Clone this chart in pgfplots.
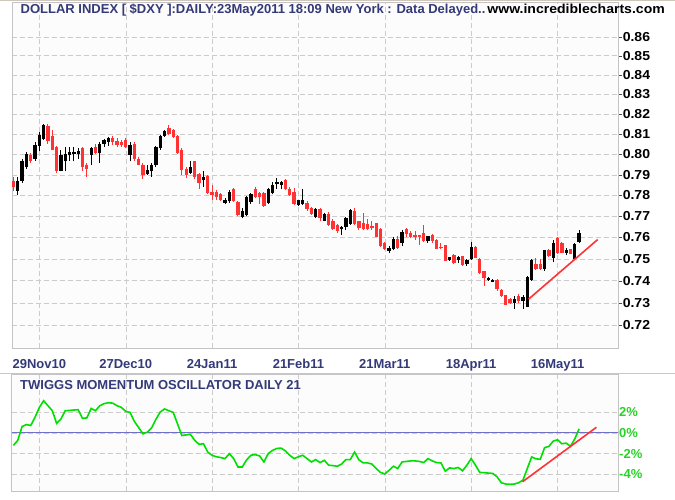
\documentclass[border=0pt]{standalone}
\usepackage{pgfplots}
\usepackage{pgfplotstable}
\usepackage{fontspec}
\setmainfont{Liberation Sans}
\pgfplotsset{compat=1.18}

\definecolor{navy}{RGB}{52,58,120}
\definecolor{candlered}{RGB}{255,51,51}
\definecolor{oscgreen}{RGB}{0,224,0}
\definecolor{labelgreen}{RGB}{40,210,40}
\definecolor{gridgray}{RGB}{204,204,204}
\definecolor{framegray}{RGB}{196,196,196}
\definecolor{zeroblue}{RGB}{112,112,196}
\definecolor{sepline}{RGB}{206,198,186}
\definecolor{panelbg}{RGB}{252,252,252}

% daily candles, x = trading day counted from 29Nov10
\pgfplotstableread{
i o h l c
-5 0.782 0.789 0.780 0.787
-4 0.787 0.798 0.786 0.797
-3 0.794 0.801 0.793 0.800
-1 0.798 0.806 0.797 0.8045
0 0.804 0.811 0.8015 0.8095
1 0.8075 0.815 0.807 0.8145
5 0.792 0.802 0.7915 0.7995
6 0.797 0.8035 0.792 0.800
7 0.7995 0.8035 0.797 0.801
8 0.800 0.8035 0.7965 0.801
9 0.800 0.803 0.798 0.8015
12 0.7995 0.8035 0.7945 0.803
14 0.8005 0.806 0.796 0.805
15 0.805 0.8075 0.8035 0.807
16 0.806 0.8085 0.804 0.808
21 0.7995 0.806 0.7965 0.8045
25 0.7905 0.795 0.790 0.7925
26 0.7915 0.7955 0.789 0.795
27 0.795 0.804 0.7935 0.8035
28 0.803 0.8095 0.802 0.809
29 0.809 0.812 0.8085 0.8115
35 0.791 0.7965 0.7905 0.794
38 0.7875 0.7915 0.784 0.789
43 0.7765 0.7785 0.776 0.778
44 0.7775 0.7825 0.7765 0.7815
47 0.7695 0.774 0.769 0.7725
48 0.7705 0.7795 0.770 0.779
49 0.777 0.781 0.776 0.7805
53 0.7765 0.7835 0.776 0.783
54 0.781 0.7865 0.7805 0.785
55 0.7855 0.7885 0.783 0.7865
56 0.785 0.787 0.783 0.7865
60 0.7755 0.778 0.775 0.778
61 0.776 0.783 0.7755 0.778
64 0.7695 0.774 0.769 0.7735
66 0.768 0.7715 0.7675 0.771
70 0.764 0.7655 0.761 0.765
71 0.765 0.7695 0.7635 0.769
72 0.7665 0.7735 0.766 0.773
81 0.7538 0.7560 0.7530 0.7552
82 0.7545 0.7600 0.7540 0.7595
84 0.7572 0.7635 0.7560 0.7627
90 0.7584 0.7606 0.7575 0.7606
95 0.7494 0.7510 0.7490 0.7509
97 0.7494 0.7512 0.7480 0.7509
99 0.7475 0.7500 0.7468 0.7497
100 0.7500 0.7580 0.7495 0.7557
104 0.7403 0.7416 0.7400 0.7414
105 0.7395 0.7407 0.7393 0.7405
110 0.7299 0.7331 0.7273 0.7317
112 0.7310 0.7335 0.7273 0.7325
113 0.7282 0.7420 0.7282 0.7417
114 0.7403 0.7500 0.7400 0.7497
117 0.7456 0.7543 0.7445 0.7543
119 0.7505 0.7591 0.7484 0.7573
122 0.7528 0.7550 0.7520 0.7543
124 0.7500 0.7575 0.7495 0.7570
125 0.7580 0.7634 0.7575 0.7621
}\upcandles

\pgfplotstableread{
i o h l c
-6 0.787 0.789 0.782 0.784
-2 0.7995 0.8005 0.796 0.797
2 0.814 0.815 0.805 0.8065
3 0.809 0.812 0.803 0.802
4 0.8035 0.804 0.791 0.792
10 0.803 0.8035 0.792 0.7935
11 0.795 0.7955 0.789 0.793
13 0.8035 0.805 0.800 0.8005
17 0.808 0.809 0.8045 0.806
18 0.8065 0.808 0.8035 0.8045
19 0.806 0.807 0.8035 0.8045
20 0.807 0.808 0.803 0.8035
22 0.805 0.806 0.797 0.798
23 0.798 0.7985 0.7945 0.795
24 0.795 0.7955 0.788 0.790
30 0.813 0.8145 0.8095 0.810
31 0.812 0.8125 0.808 0.8085
32 0.809 0.8095 0.800 0.8005
33 0.802 0.803 0.790 0.7925
34 0.793 0.794 0.7885 0.790
36 0.7965 0.797 0.788 0.789
37 0.7905 0.791 0.783 0.786
39 0.7895 0.790 0.7805 0.781
40 0.7815 0.785 0.778 0.780
41 0.7815 0.7825 0.778 0.779
42 0.7805 0.781 0.7775 0.778
45 0.783 0.7835 0.777 0.7775
46 0.777 0.7775 0.770 0.7705
50 0.783 0.784 0.7785 0.779
51 0.781 0.7815 0.776 0.779
52 0.781 0.7815 0.7745 0.775
57 0.7875 0.788 0.7825 0.783
58 0.783 0.784 0.7795 0.780
59 0.7815 0.7835 0.7755 0.776
62 0.7765 0.7775 0.7725 0.7735
63 0.774 0.7745 0.7705 0.771
65 0.7735 0.774 0.7675 0.769
67 0.771 0.772 0.7655 0.766
68 0.768 0.7685 0.7635 0.764
69 0.766 0.7665 0.762 0.763
73 0.7725 0.774 0.766 0.7665
74 0.7675 0.768 0.7635 0.7645
75 0.767 0.7715 0.7635 0.764
76 0.7665 0.7685 0.7635 0.764
77 0.7655 0.768 0.7635 0.7645
78 0.7668 0.767 0.760 0.7603
79 0.7642 0.7645 0.7556 0.7560
80 0.7572 0.7580 0.7540 0.7545
83 0.7595 0.7605 0.7545 0.7550
85 0.7642 0.7645 0.7600 0.7618
86 0.7620 0.7630 0.7598 0.7603
87 0.7610 0.7630 0.7590 0.7603
88 0.7610 0.7612 0.7564 0.7603
89 0.7620 0.7660 0.7580 0.7585
91 0.7610 0.7618 0.7575 0.7585
92 0.7590 0.7592 0.7545 0.7548
93 0.7557 0.7575 0.7545 0.7550
94 0.7564 0.7566 0.7489 0.7490
96 0.7520 0.7522 0.7475 0.7483
98 0.7512 0.7514 0.7468 0.7470
101 0.7556 0.7560 0.7504 0.7504
102 0.7500 0.7502 0.7430 0.7437
103 0.7444 0.7445 0.7377 0.7410
106 0.7405 0.7408 0.7355 0.7360
107 0.7357 0.7360 0.7325 0.7330
108 0.7335 0.7337 0.7290 0.7292
109 0.7317 0.7320 0.7295 0.7300
111 0.7331 0.7340 0.7300 0.7308
115 0.7475 0.7505 0.7450 0.7456
116 0.7475 0.7500 0.7450 0.7456
118 0.7543 0.7545 0.7510 0.7512
120 0.7596 0.7600 0.7525 0.7528
121 0.7576 0.7580 0.7528 0.7530
123 0.7546 0.7548 0.7521 0.7521
}\downcandles

\pgfplotstableread{
i v
-6 -1.21
-5 -0.73
-4 0.60
-3 0.79
-2 0.70
-1 1.49
0 2.44
1 3.08
2 2.60
3 2.12
4 0.91
5 1.33
6 2.12
7 2.15
8 2.19
9 2.22
10 1.39
11 1.43
12 2.34
13 2.12
14 2.60
15 2.80
16 2.89
17 2.85
18 2.60
19 2.44
20 2.06
21 1.96
22 1.10
23 0.50
24 -0.10
25 0.06
26 0.48
27 1.30
28 2.00
29 2.29
30 2.12
31 1.96
32 0.86
33 -0.26
34 -0.20
35 -0.16
36 -0.73
37 -1.11
38 -1.05
39 -1.85
40 -2.16
41 -2.30
42 -2.38
43 -2.48
44 -2.00
45 -2.48
46 -3.28
47 -3.28
48 -2.60
49 -2.15
50 -2.10
51 -2.22
52 -2.80
53 -2.00
54 -1.69
55 -1.50
56 -1.47
57 -1.75
58 -2.16
59 -2.48
60 -2.30
61 -2.16
62 -2.48
63 -2.80
64 -2.57
65 -2.86
66 -2.64
67 -3.11
68 -3.15
69 -3.21
70 -3.00
71 -2.57
72 -2.57
73 -1.85
74 -2.60
75 -2.89
76 -2.89
77 -3.00
78 -3.43
79 -3.80
80 -3.95
81 -3.60
82 -3.21
83 -3.43
84 -2.80
85 -2.75
86 -2.70
87 -2.70
88 -2.75
89 -2.86
90 -2.48
91 -2.70
92 -2.86
93 -2.89
94 -3.69
95 -3.37
96 -3.43
97 -3.33
98 -3.65
99 -3.11
100 -2.48
101 -3.11
102 -3.81
103 -3.83
104 -3.87
105 -3.90
106 -4.23
107 -4.80
108 -4.92
109 -4.95
110 -4.92
111 -4.80
112 -4.54
113 -3.43
114 -2.32
115 -2.50
116 -2.54
117 -1.43
118 -1.30
119 -0.80
120 -0.67
121 -1.05
122 -0.99
123 -1.30
124 -0.57
125 0.38
}\momentum

\newcommand{\chartfont}{\fontsize{13}{13}\selectfont\bfseries}

\pgfplotsset{
  panel/.style={
    width=606.3pt, scale only axis, anchor=south west,
    xmin=-6.4, xmax=134,
    axis background/.style={fill=panelbg},
    axis line style={framegray},
    xtick={0,20,...,120},
    xmajorgrids, ymajorgrids,
    grid style={gridgray, dash pattern=on 5pt off 3pt},
    yticklabel pos=right, ytick pos=right,
    tick align=outside,
    xtick style={draw=none},
    ticklabel style={font=\chartfont},
  },
}

\begin{document}
\begin{tikzpicture}[x=1pt,y=1pt]
\useasboundingbox (0,0) rectangle (675,500);
\fill[white] (0,0) rectangle (675,500);

% price panel
\begin{axis}[panel,
  at={(11.7pt,152pt)}, height=346pt,
  ymode=log, ymin=0.7099, ymax=0.8786,
  xticklabels={29Nov10,27Dec10,24Jan11,21Feb11,21Mar11,18Apr11,16May11},
  x tick label style={text=navy, yshift=-3.5pt},
  ytick={0.72,0.73,0.74,0.75,0.76,0.77,0.78,0.79,0.80,0.81,0.82,0.83,0.84,0.85,0.86},
  yticklabels={0.72,0.73,0.74,0.75,0.76,0.77,0.78,0.79,0.80,0.81,0.82,0.83,0.84,0.85,0.86},
  y tick label style={text=black, inner xsep=0.5pt, xscale=1.08},
  ytick style={black!70},
  major tick length=4pt,
  minor ytick={},
]
% wicks
\addplot[draw=none, mark=none, forget plot,
  error bars/.cd, y dir=plus, y explicit, error mark=none,
  error bar style={draw=black, line width=1pt}]
  table[x=i, y=l, y error plus expr=\thisrow{h}-\thisrow{l}] {\upcandles};
\addplot[draw=none, mark=none, forget plot,
  error bars/.cd, y dir=plus, y explicit, error mark=none,
  error bar style={draw=candlered, line width=1pt}]
  table[x=i, y=l, y error plus expr=\thisrow{h}-\thisrow{l}] {\downcandles};
% bodies
\addplot[draw=none, mark=none, forget plot,
  error bars/.cd, y dir=plus, y explicit, error mark=none,
  error bar style={draw=black, line width=3.3pt}]
  table[x=i, y=o, y error plus expr=\thisrow{c}-\thisrow{o}] {\upcandles};
\addplot[draw=none, mark=none, forget plot,
  error bars/.cd, y dir=plus, y explicit, error mark=none,
  error bar style={draw=candlered, line width=3.3pt}]
  table[x=i, y=c, y error plus expr=\thisrow{o}-\thisrow{c}] {\downcandles};
% trend line
\addplot[candlered, line width=1.6pt] coordinates {(113.3,0.7317) (129.3,0.7591)};
\end{axis}

% momentum panel
\begin{axis}[panel,
  at={(11.7pt,9pt)}, height=117pt,
  ymin=-5.59, ymax=5.65,
  xticklabels={},
  ytick={-4,-2,0,2},
  yticklabels={-4\%,-2\%,0\%,2\%},
  y tick label style={text=labelgreen, inner xsep=1pt},
  major tick length=0pt,
]
\addplot[zeroblue, line width=0.9pt] coordinates {(-6.4,0) (134,0)};
\addplot[oscgreen, line width=1.6pt] table[x=i, y=v] {\momentum};
\addplot[candlered, line width=1.6pt] coordinates {(111.9,-4.7) (129,0.53)};
\end{axis}

% frame lines and titles
\draw[sepline, line width=1.5pt] (0,499.25) -- (675,499.25);
\draw[sepline, line width=1.5pt] (0,126.5) -- (675,126.5);
\node[anchor=base west, inner sep=0pt, font=\chartfont, text=navy] at (20.5,486)
  {DOLLAR INDEX [ \$DXY ]:DAILY:23May2011 18:09 New York : Data Delayed..};
\node[anchor=base east, inner sep=0pt, font=\chartfont, text=black] at (665,486)
  {\scalebox{1.08}[1]{www.incrediblecharts.com}};
\node[anchor=base west, inner sep=0pt, font=\chartfont, text=navy] at (20,110.7)
  {TWIGGS MOMENTUM OSCILLATOR DAILY 21};
\end{tikzpicture}
\end{document}
